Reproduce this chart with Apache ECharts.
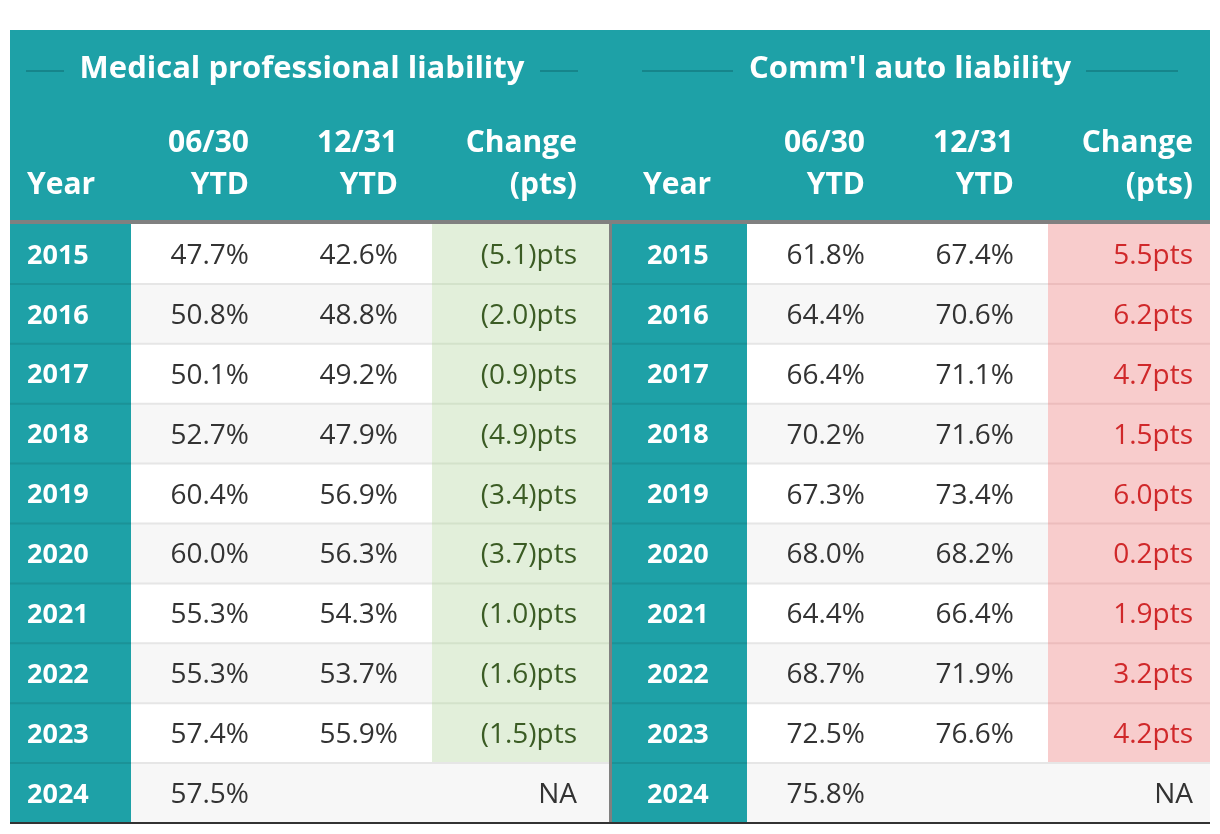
<!DOCTYPE html>
<html><head><meta charset="utf-8">
<script src="https://cdn.jsdelivr.net/npm/echarts@6/dist/echarts.min.js"></script>
<style>html,body{margin:0;padding:0;background:#fff}#c{width:1220px;height:834px}</style>
</head><body><div id="c"></div>
<script>
// ---------- data ----------
const years = ['2015','2016','2017','2018','2019','2020','2021','2022','2023','2024'];
const medJun  = [47.7, 50.8, 50.1, 52.7, 60.4, 60.0, 55.3, 55.3, 57.4, 57.5];
const medDec  = [42.6, 48.8, 49.2, 47.9, 56.9, 56.3, 54.3, 53.7, 55.9, null];
const medChg  = [-5.1, -2.0, -0.9, -4.9, -3.4, -3.7, -1.0, -1.6, -1.5, null];
const autoJun = [61.8, 64.4, 66.4, 70.2, 67.3, 68.0, 64.4, 68.7, 72.5, 75.8];
const autoDec = [67.4, 70.6, 71.1, 71.6, 73.4, 68.2, 66.4, 71.9, 76.6, null];
const autoChg = [5.5, 6.2, 4.7, 1.5, 6.0, 0.2, 1.9, 3.2, 4.2, null];
const tableTitles = ['Medical professional liability', "Comm'l auto liability"];
const colHeaders = [['', 'Year'], ['06/30', 'YTD'], ['12/31', 'YTD'], ['Change', '(pts)']];

// ---------- layout / style ----------
const FONT = '"Open Sans", "Noto Sans", sans-serif';
const TEAL = '#1ea1a7';
const TEAL_DARK = '#16858b';
const tables = [
  { edges: [10, 131, 282, 432, 609], textX: [27, 249, 398, 577], hdrYearX: 27,
    title: tableTitles[0], jun: medJun, dec: medDec, chg: medChg,
    titleCx: 302, lines: [[26, 64], [540, 578]] },
  { edges: [612, 747, 898, 1048, 1210], textX: [647, 865, 1014, 1193], hdrYearX: 643,
    title: tableTitles[1], jun: autoJun, dec: autoDec, chg: autoChg,
    titleCx: 910, lines: [[642, 733], [1086, 1178]] }
];

function fmtPct(v) { return v == null ? '' : v.toFixed(1) + '%'; }
function fmtChg(v) {
  if (v == null) return 'NA';
  return v < 0 ? '(' + Math.abs(v).toFixed(1) + ')pts' : v.toFixed(1) + 'pts';
}

// build cells
const cells = [];
tables.forEach((t, ti) => {
  years.forEach((y, r) => {
    const vals = [y, fmtPct(t.jun[r]), fmtPct(t.dec[r]), fmtChg(t.chg[r])];
    for (let c = 0; c < 4; c++) {
      cells.push({ value: [t.edges[c], r, t.edges[c + 1]], table: ti, col: c, row: r, text: vals[c],
        chg: c === 3 ? t.chg[r] : undefined, textX: t.textX[c] });
    }
  });
});

function renderItem(params, api) {
  const cell = cells[params.dataIndex];
  const p0 = api.coord([api.value(0), api.value(1)]);
  const p1 = api.coord([api.value(2), api.value(1)]);
  const h = api.size([0, 1])[1];
  const x0 = p0[0], x1 = p1[0], cy = p0[1], top = cy - h / 2;
  const alt = cell.row % 2 === 1 ? '#f7f7f7' : '#ffffff';
  let fill = alt, color = '#333333', weight = 'normal', size = 28, align = 'right', sep = '#e6e6e6';
  if (cell.col === 0) { fill = TEAL; color = '#ffffff'; weight = 'bold'; size = 27; align = 'left'; sep = '#1b9297'; }
  if (cell.col === 3 && cell.chg != null) {
    if (cell.chg < 0) { fill = '#e2efda'; color = '#3b5c24'; sep = '#d3e2ca'; }
    else { fill = '#f8cccc'; color = '#d0282a'; sep = '#ecbcbc'; }
  }
  const tx = api.coord([cell.textX, 0])[0];
  const children = [
    { type: 'rect', shape: { x: x0, y: top, width: x1 - x0, height: h }, style: { fill: fill } }
  ];
  if (cell.row > 0) {
    children.push({ type: 'rect', shape: { x: x0, y: top - 1, width: x1 - x0, height: 2 }, style: { fill: sep } });
  }
  children.push({ type: 'text', style: { text: cell.text, x: tx, y: cy + 2, fill: color,
    fontSize: size, fontWeight: weight, fontFamily: FONT,
    align: align, verticalAlign: 'middle', textAlign: align, textVerticalAlign: 'middle' } });
  return { type: 'group', children: children };
}

// header graphics
const graphics = [];
graphics.push({ type: 'rect', shape: { x: 10, y: 30, width: 1200, height: 190 }, style: { fill: TEAL } });
graphics.push({ type: 'rect', shape: { x: 10, y: 220, width: 1200, height: 4 }, style: { fill: '#808080' } });
tables.forEach(t => {
  graphics.push({ type: 'text', style: { text: t.title, x: t.titleCx, y: 69, fill: '#ffffff',
    fontSize: 31, fontWeight: 'bold', fontFamily: FONT, align: 'center', verticalAlign: 'middle',
    textAlign: 'center', textVerticalAlign: 'middle' } });
  t.lines.forEach(l => graphics.push({ type: 'rect', shape: { x: l[0], y: 70, width: l[1] - l[0], height: 2 },
    style: { fill: TEAL_DARK } }));
  colHeaders.forEach((hd, c) => {
    const x = c === 0 ? t.hdrYearX : t.textX[c];
    const al = c === 0 ? 'left' : 'right';
    [hd[0], hd[1]].forEach((s, k) => {
      if (!s) return;
      graphics.push({ type: 'text', style: { text: s, x: x, y: k === 0 ? 143 : 185, fill: '#ffffff',
        fontSize: 30, fontWeight: 'bold', fontFamily: FONT, align: al, verticalAlign: 'middle',
        textAlign: al, textVerticalAlign: 'middle' } });
    });
  });
});
// vertical separator and bottom rule
graphics.push({ type: 'rect', shape: { x: 609, y: 220, width: 3, height: 603 }, style: { fill: '#808080' }, z: 100 });
graphics.push({ type: 'rect', shape: { x: 10, y: 822, width: 1200, height: 2 }, style: { fill: '#333333' }, z: 100 });

const chart = echarts.init(document.getElementById('c'), null, { renderer: 'canvas' });
chart.setOption({
  backgroundColor: '#ffffff',
  animation: false,
  grid: { left: 10, right: 10, top: 224, bottom: 11, containLabel: false },
  xAxis: { type: 'value', min: 10, max: 1210, show: false },
  yAxis: { type: 'category', data: years, inverse: true, show: false },
  series: [{ type: 'custom', renderItem: renderItem, data: cells.map(c => c.value),
    encode: { x: [0, 2], y: 1 }, clip: false }],
  graphic: { elements: graphics }
});
</script></body></html>
